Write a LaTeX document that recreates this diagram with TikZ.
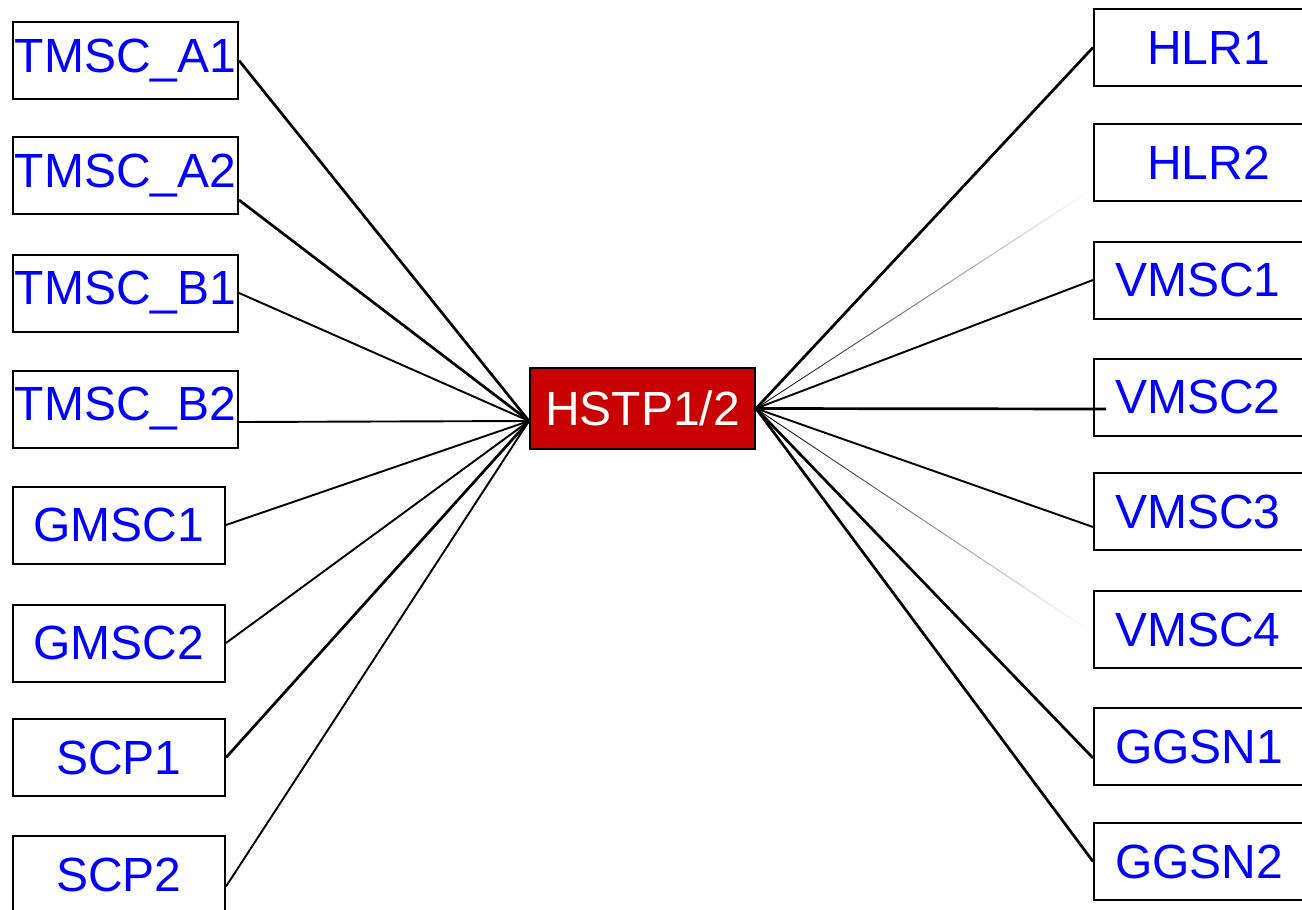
\documentclass[tikz,border=0pt]{standalone}
\usepackage{fontspec}
\setmainfont{Liberation Sans}
\usepackage{tikz}
\usetikzlibrary{fadings}
\definecolor{hstpred}{RGB}{200,0,0}

\begin{document}
\begin{tikzpicture}[x=1pt,y=-1pt,
  box/.style={draw,line width=2pt,text=blue,inner sep=0pt,minimum height=77pt,
    font=\fontsize{48}{57}\selectfont},
  lbox/.style={box,minimum width=225pt},
  sbox/.style={box,minimum width=212pt},
  rbox/.style={box,anchor=west,text width=196pt,inner xsep=21pt,align=left},
  hbox/.style={box,anchor=west,text width=130pt,inner xsep=53pt,align=left},
  link/.style={line width=1.9pt},
  heavy/.style={line width=2.7pt},
  faint/.style={line width=0.9pt,path fading=east}]
\useasboundingbox (0,0) rectangle (1302,910);

\node[lbox] (tmscA1) at (125.5,60.5) {TMSC\_A1};
\node[lbox] (tmscA2) at (125.5,175.5) {TMSC\_A2};
\node[lbox] (tmscB1) at (125.5,293) {TMSC\_B1};
\node[lbox] (tmscB2) at (125.5,409) {TMSC\_B2};
\node[sbox] (gmsc1) at (119,525) {GMSC1};
\node[sbox] (gmsc2) at (119,643) {GMSC2};
\node[sbox] (scp1) at (119,757.5) {SCP1};
\node[sbox] (scp2) at (119,874.5) {SCP2};

\node[hbox] (hlr1) at (1093,47.5) {HLR1};
\node[hbox] (hlr2) at (1093,162.5) {HLR2};
\node[rbox] (vmsc1) at (1093,280) {VMSC1};
\node[rbox] (vmsc2) at (1093,397) {VMSC2};
\node[rbox] (vmsc3) at (1093,511.5) {VMSC3};
\node[rbox] (vmsc4) at (1093,629.5) {VMSC4};
\node[rbox] (ggsn1) at (1093,746.5) {GGSN1};
\node[rbox] (ggsn2) at (1093,861.5) {GGSN2};

\node[box,fill=hstpred,text=white,minimum width=225pt,minimum height=81pt] (hstp) at (642.5,408.5) {HSTP1/2};

\draw[heavy] (tmscA1.east) -- ([yshift=-12.5pt]hstp.west);
\draw[heavy] ([yshift=-24.5pt]tmscA2.east) -- ([yshift=-12.5pt]hstp.west);
\draw[link] (tmscB1.east) -- ([yshift=-12.5pt]hstp.west);
\draw[link] ([yshift=-13pt]tmscB2.east) -- ([yshift=-12.5pt]hstp.west);
\draw[link] (gmsc1.east) -- ([yshift=-12.5pt]hstp.west);
\draw[link] (gmsc2.east) -- ([yshift=-12.5pt]hstp.west);
\draw[heavy] (scp1.east) -- ([yshift=-12.5pt]hstp.west);
\draw[link] ([yshift=-12pt]scp2.east) -- ([yshift=-12.5pt]hstp.west);

\draw[heavy] (hstp.east) -- (hlr1.west);
\draw[faint] (hstp.east) -- ([xshift=-2pt,yshift=-27.5pt]hlr2.west);
\draw[link] (hstp.east) -- (vmsc1.west);
\draw[heavy] (hstp.east) -- ([xshift=13pt,yshift=-12pt]vmsc2.west);
\draw[link] (hstp.east) -- ([yshift=-15.5pt]vmsc3.west);
\draw[faint] (hstp.east) -- ([xshift=-2pt,yshift=-2.5pt]vmsc4.west);
\draw[heavy] (hstp.east) -- ([yshift=-11.5pt]ggsn1.west);
\draw[heavy] (hstp.east) -- (ggsn2.west);
\end{tikzpicture}
\end{document}
